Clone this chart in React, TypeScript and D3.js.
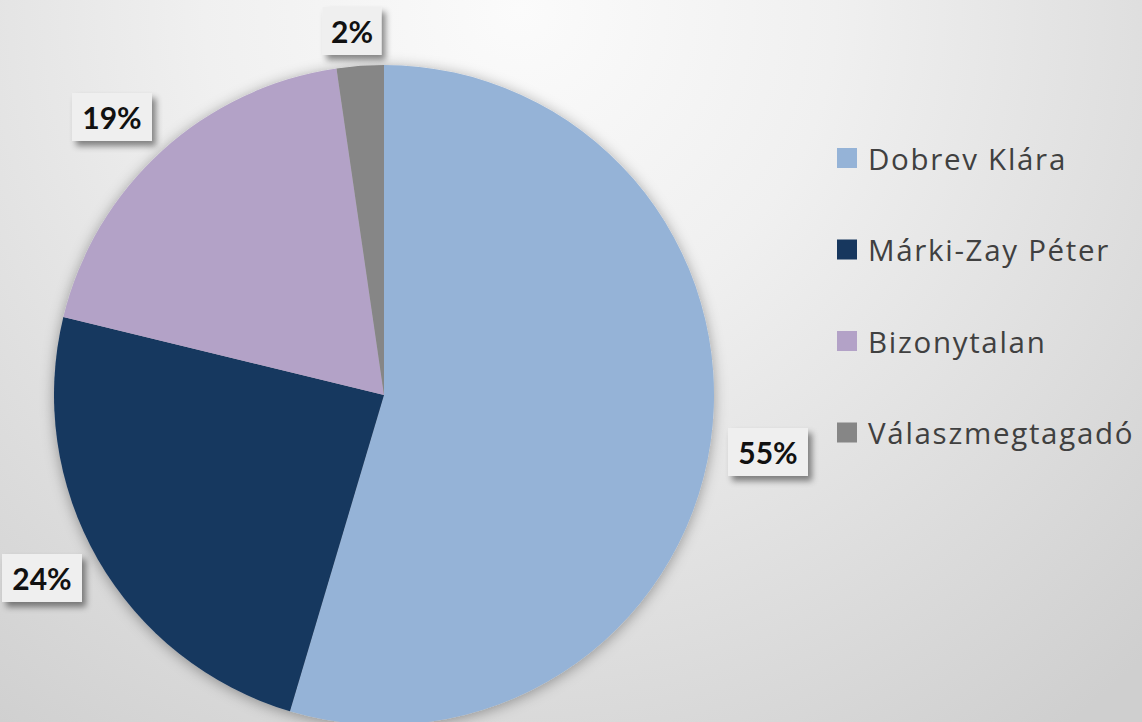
import { useMemo } from 'react'
import { pie, arc, scaleOrdinal } from 'd3'

const W = 1142
const H = 722
const CX = 384
const CY = 395
const R = 330

const NAMES = ['Dobrev Klára', 'Márki-Zay Péter', 'Bizonytalan', 'Válaszmegtagadó']
const VALUES = [54.6, 24.2, 18.9, 2.3]
const LABELS = ['55%', '24%', '19%', '2%']
const COLORS = ['#95b3d7', '#17375e', '#b3a2c7', '#868686']

// label box centres relative to the pie centre
const LABEL_POS: [number, number][] = [
  [384, 57],
  [-342, 183],
  [-272, -278],
  [-32, -364],
]

export default function App() {
  const color = scaleOrdinal<string, string>().domain(NAMES).range(COLORS)

  const slices = useMemo(
    () =>
      pie<number>()
        .sort(null)
        .value((d) => d)(VALUES),
    []
  )
  const path = arc<any>().innerRadius(0).outerRadius(R)

  return (
    <svg width={W} height={H} style={{ position: 'absolute', left: 0, top: 0 }}>
      <defs>
        <radialGradient id="bg" gradientUnits="userSpaceOnUse" cx={520} cy={10} r={900}>
          <stop offset="0" stopColor="#fbfbfb" />
          <stop offset="0.35" stopColor="#f0f0f0" />
          <stop offset="1" stopColor="#cfcfcf" />
        </radialGradient>
        <filter id="pieShadow" x="-20%" y="-20%" width="140%" height="140%">
          <feDropShadow dx="0" dy="2" stdDeviation="7" floodColor="#000" floodOpacity="0.35" />
        </filter>
        <filter id="boxShadow" x="-30%" y="-30%" width="160%" height="170%">
          <feDropShadow dx="4" dy="5" stdDeviation="3" floodColor="#000" floodOpacity="0.45" />
        </filter>
      </defs>
      <rect width={W} height={H} fill="url(#bg)" />

      <g transform={`translate(${CX},${CY})`}>
        <g filter="url(#pieShadow)">
          {slices.map((s, i) => (
            <path key={NAMES[i]} d={path(s) as string} fill={color(NAMES[i])} />
          ))}
        </g>
        {slices.map((s, i) => {
          const [lx, ly] = LABEL_POS[i]
          const bw = LABELS[i].length > 2 ? 80 : 59
          return (
            <g key={`l${i}`} transform={`translate(${lx},${ly})`}>
              <rect x={-bw / 2} y={-24} width={bw} height={48} fill="#efefef" filter="url(#boxShadow)" />
              <text
                textAnchor="middle"
                dominantBaseline="central"
                fontFamily="Lato, 'Open Sans', sans-serif"
                fontWeight="bold"
                fontSize={30}
                fill="#111"
              >
                {LABELS[i]}
              </text>
            </g>
          )
        })}
      </g>

      <g transform="translate(837,158)">
        {NAMES.map((n, i) => (
          <g key={n} transform={`translate(0,${i * 91.5})`}>
            <rect x={0} y={-10} width={20} height={20} fill={color(n)} />
            <text
              x={31}
              y={0}
              dominantBaseline="central"
              fontFamily="'Open Sans', sans-serif"
              fontSize={29.5}
              letterSpacing={1.7}
              fill="#404040"
            >
              {n}
            </text>
          </g>
        ))}
      </g>
    </svg>
  )
}
